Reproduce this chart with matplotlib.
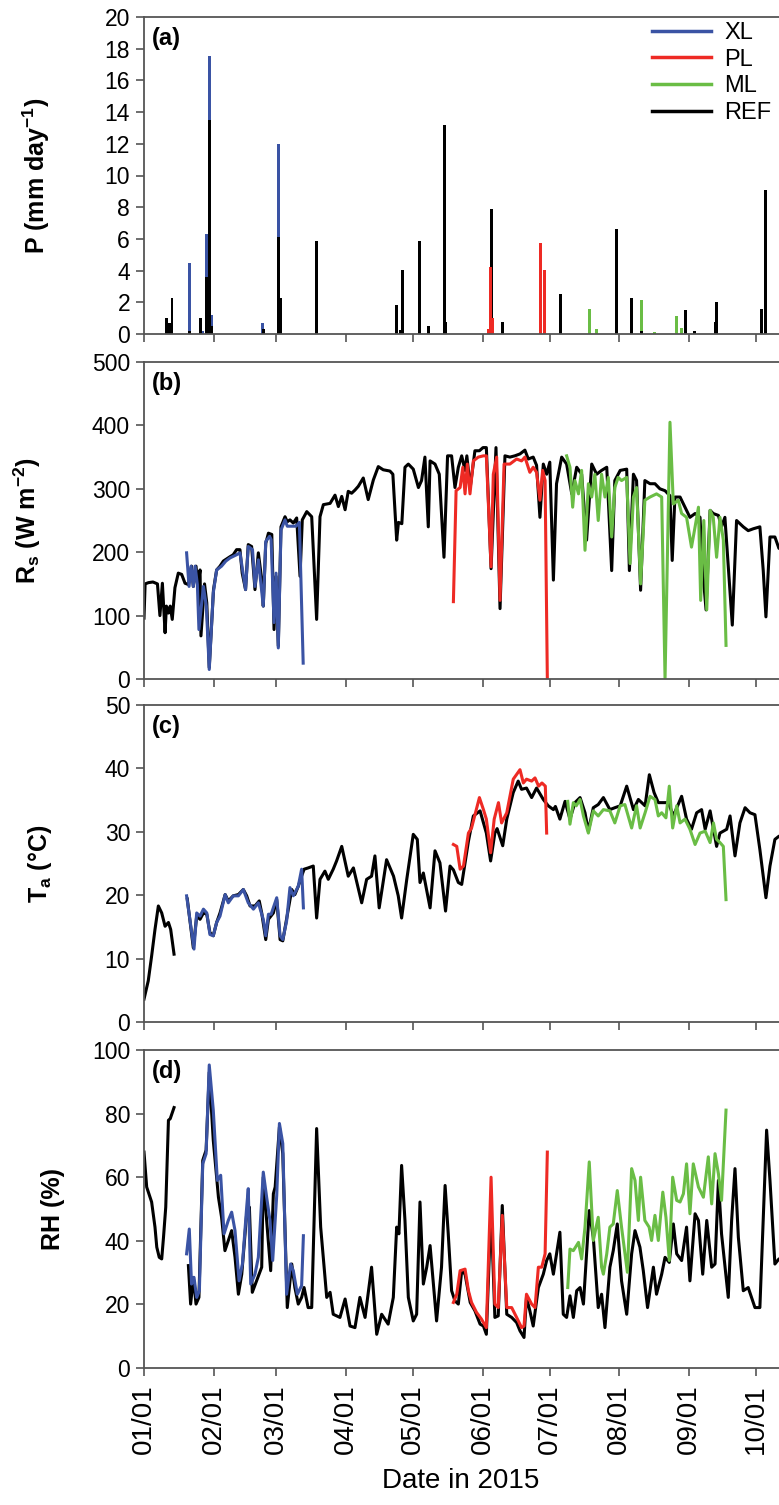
import numpy as np
import matplotlib
matplotlib.use("Agg")
import matplotlib.pyplot as plt
import matplotlib.dates as mdates
from matplotlib.lines import Line2D
from datetime import datetime

plt.rcParams["font.family"] = ["Liberation Sans", "DejaVu Sans"]
plt.rcParams["mathtext.fontset"] = "custom"
plt.rcParams["mathtext.rm"] = "Liberation Sans:bold"
plt.rcParams["mathtext.bf"] = "Liberation Sans:bold"
plt.rcParams["mathtext.default"] = "bf"

# colours
c_xl = "#3A53A4"
c_pl = "#EE2A24"
c_ml = "#6ABD45"
c_ref = "#000000"

# ---- data (day of year counted from 01/01/2015, value) ----
# (a) precipitation, mm/day
p_ref = [(10, 1.0), (11.3, 0.7), (12.5, 2.3), (20.1, 0.2), (25.3, 1.0), (28.0, 3.6),
         (29.1, 13.5), (30.2, 0.5), (53.2, 0.3), (59.9, 6.1), (61.1, 2.3), (77.0, 5.85),
         (112.8, 1.8), (114.5, 0.25), (115.1, 4.05), (122.9, 5.85), (126.9, 0.5),
         (133.9, 13.2), (134.6, 0.75), (154.8, 7.9), (159.8, 0.75), (185.7, 2.55),
         (210.7, 6.6), (217.5, 2.3), (221.8, 0.2), (241.5, 1.5), (245.5, 0.2),
         (254.8, 0.75), (255.4, 2.05), (275.5, 1.55), (277.4, 9.1)]
p_xl = [(20.1, 4.5), (26.0, 0.2), (28.0, 6.3), (29.1, 17.55), (30.2, 1.2), (52.9, 0.7),
        (59.9, 12.0)]
p_pl = [(153.6, 0.3), (154.6, 4.2), (155.6, 1.0), (176.8, 5.75), (178.6, 4.05)]
p_ml = [(198.6, 1.55), (201.9, 0.3), (221.8, 2.15), (227.6, 0.15), (237.6, 1.15),
        (239.7, 0.35)]

# (b) solar radiation, W m-2
rs_ref = [(0, 96), (0.5, 150), (2, 152), (4, 153), (6, 150), (7.1, 100), (8.2, 151),
          (9.4, 73), (10, 115), (10.9, 104), (11.7, 115), (12.6, 94), (13.8, 144),
          (15.3, 167), (16.8, 165), (18.3, 151), (19.8, 149), (21.2, 178), (22, 146),
          (23.2, 178), (24, 146), (25, 172), (25.4, 68), (27, 150), (28, 120), (29.1, 18),
          (31, 141), (32.4, 172), (33.9, 178), (35.4, 186), (38.4, 193), (39.8, 196),
          (41.3, 204), (42.8, 204), (43.8, 167), (45.3, 141), (46.5, 212), (48, 209),
          (49.5, 141), (51, 199), (52.5, 157), (53.2, 115), (54.3, 214), (55.5, 230),
          (57, 228), (58, 78), (58.9, 162), (59.9, 52), (61.1, 240), (62.9, 256),
          (63.9, 248), (65.1, 251), (66.6, 246), (68.1, 254), (69.6, 162), (70.6, 251),
          (72.6, 264), (74.8, 256), (77, 94), (78.5, 256), (80, 275), (83, 277),
          (85.2, 290), (86.7, 272), (88.2, 288), (89.7, 267), (91.1, 296), (92.6, 293),
          (94.1, 298), (95.6, 304), (97.8, 317), (100, 283), (102.3, 314), (104.5, 335),
          (106.7, 330), (109.7, 328), (111, 323), (112.7, 219), (113.5, 247), (115, 245),
          (116.4, 334), (117.9, 339), (120.1, 331), (122.4, 302), (123.8, 313),
          (125.3, 350), (126.8, 240), (127.6, 344), (129.8, 339), (131.7, 323),
          (133.8, 192), (135.4, 352), (137.2, 352), (138.7, 302), (140.2, 334),
          (141.7, 352), (143.2, 329), (144, 352), (145.5, 302), (147.6, 360),
          (149.6, 360), (151.2, 365), (152.7, 365), (154.8, 174), (157, 365),
          (158.8, 111), (161, 352), (163.2, 350), (165.4, 352), (167.7, 355),
          (169.9, 361), (171.4, 347), (173.6, 350), (175.1, 337), (176.6, 255),
          (178.1, 339), (179.6, 323), (181, 342), (182.6, 156), (184, 308), (186.3, 350),
          (188.5, 339), (190.8, 292), (193, 334), (195.2, 323), (197.4, 219),
          (199.7, 339), (201.9, 323), (204.1, 329), (206.4, 334), (208.6, 171),
          (210, 313), (212.4, 329), (215.3, 331), (216.5, 171), (218.3, 323),
          (219.7, 313), (221.5, 140), (223.4, 313), (225.7, 308), (227.9, 308),
          (230.1, 300), (232.4, 297), (234.6, 289), (235.6, 187), (236.8, 287),
          (239.1, 287), (241.3, 271), (243.5, 255), (245.8, 261), (248, 255),
          (249.2, 171), (250.7, 109), (252.5, 266), (253.9, 261), (256.2, 258),
          (257.6, 240), (259.1, 255), (262.4, 85), (264.3, 250), (267.3, 240),
          (269.5, 234), (271.8, 237), (274.7, 240), (276.2, 171), (277.4, 98),
          (279.2, 224), (281.4, 224), (283.2, 206), (286, 215)]
rs_xl = [(19, 199), (20.1, 146), (21, 178), (22, 146), (22.8, 178), (23.8, 149),
         (24.5, 78), (26.5, 146), (27.8, 115), (29.1, 15), (30.9, 136), (32.4, 172),
         (34.6, 178), (36.5, 186), (38.4, 191), (41.3, 196), (42.8, 199), (45.3, 141),
         (46.5, 209), (48.4, 204), (49.5, 146), (51, 188), (53.2, 115), (54.3, 217),
         (56, 225), (56.7, 220), (58, 89), (58.9, 167), (59.9, 49), (61.1, 235),
         (62.9, 251), (63.9, 241), (65.8, 241), (67.8, 241), (69.3, 247), (71, 25)]
rs_pl = [(138, 122), (139.2, 297), (141, 302), (142.2, 334), (143.2, 292), (144.2, 339),
         (145.4, 292), (146.9, 344), (149.1, 350), (151.4, 352), (152.7, 352),
         (154.8, 177), (155.8, 323), (157.3, 350), (158.8, 124), (160.6, 339),
         (163.2, 339), (166.2, 347), (168.4, 344), (169.9, 350), (172.1, 326),
         (173.6, 334), (175.1, 326), (176.6, 282), (177.8, 329), (178.9, 313), (179.9, 0)]
rs_ml = [(188.5, 352), (190, 334), (191.2, 271), (192.2, 313), (193.8, 292), (195.2, 329),
         (196.7, 203), (198.2, 308), (199.7, 287), (201.1, 323), (202.6, 250),
         (204.1, 323), (205.6, 287), (207.1, 318), (208.6, 224), (210, 302), (211.5, 318),
         (213, 313), (215.3, 318), (216.8, 182), (218.3, 287), (219.7, 302), (221.5, 150),
         (223.4, 282), (225.7, 287), (228.6, 292), (230.9, 287), (232.4, 0), (234.6, 405),
         (236.1, 276), (238.3, 282), (239.8, 261), (242, 255), (244.2, 208), (245.8, 240),
         (247.3, 271), (248.3, 124), (249.7, 250), (251, 109), (252.5, 266), (253.9, 255),
         (255.4, 192), (256.9, 255), (258.4, 219), (259.6, 53)]

# (c) air temperature, degC  (nan = gap in record)
ta_ref = [(0, 3.6), (1.9, 6.5), (3.4, 10.4), (4.9, 14.6), (6.4, 18.3), (7.9, 17.2),
          (9.4, 15.1), (10.9, 15.7), (11.9, 14.6), (13.4, 10.7), (16, np.nan),
          (19.3, 19.4), (22, 11.7), (23.5, 16.7), (25, 16.2), (26.5, 17.2), (28, 17.0),
          (29.4, 14.1), (30.9, 13.6), (32.4, 15.7), (33.9, 17.2), (36.2, 20.1),
          (37.6, 19.1), (39.8, 19.9), (42.1, 20.1), (44.3, 20.9), (45.8, 19.9),
          (47.3, 18.3), (49.5, 18.3), (51.4, 19.1), (52.5, 17.2), (54.3, 13.0),
          (55.5, 16.2), (57.7, 17.2), (59.2, 19.3), (60.7, 13.0), (61.9, 12.8),
          (63.6, 16.2), (65.9, 20.9), (67.3, 20.1), (68.8, 21.4), (70.3, 23.0),
          (71.4, 24.1), (73.2, 24.3), (75.5, 24.6), (77, 16.4), (78.5, 22.5),
          (80.7, 23.8), (82.2, 22.5), (84.4, 24.1), (85.9, 25.4), (88.2, 27.7),
          (91.1, 23.0), (93.4, 24.3), (97.1, 18.8), (99.3, 22.5), (101.5, 23.0),
          (103, 26.2), (104.9, 18.0), (108.2, 25.6), (111.3, 23.0), (113.4, 19.9),
          (114.9, 16.4), (117.2, 22.5), (120.1, 29.6), (121.9, 28.8), (123.1, 22.0),
          (124.6, 23.5), (127.6, 18.0), (129.8, 27.0), (132, 25.1), (134.5, 17.5),
          (136.5, 24.6), (138, 24.0), (140.2, 22.0), (141.7, 21.7), (144.7, 28.5),
          (146.9, 32.5), (149.9, 33.3), (152.7, 29.8), (154.6, 25.4), (156.5, 29.8),
          (157.5, 30.5), (160, 27.8), (161.8, 32.0), (164.7, 36.2), (166.9, 38.0),
          (168.4, 36.7), (170.6, 36.9), (172.9, 35.4), (175.1, 36.9), (178.1, 35.1),
          (180.3, 34.1), (182.6, 33.5), (183.5, 34.0), (185.5, 32.0), (187.8, 34.8),
          (190, 32.0), (192.2, 34.6), (194.5, 35.4), (196.7, 33.0), (198.2, 30.1),
          (200.4, 33.8), (202.6, 34.3), (204.9, 35.4), (207.8, 33.5), (210, 33.8),
          (212.4, 34.1), (215.3, 37.2), (218.3, 33.5), (220.5, 35.1), (223.5, 34.1),
          (225.4, 39.0), (227.5, 36.2), (229.4, 34.6), (231.7, 34.6), (233.9, 34.6),
          (236.1, 32.5), (239.8, 35.6), (242, 32.0), (244.2, 30.4), (246.5, 33.0),
          (248.7, 33.5), (250.3, 30.4), (252.5, 33.3), (255.4, 27.7), (256.9, 29.8),
          (259.9, 30.4), (261.4, 32.5), (263.6, 26.2), (265.8, 31.4), (268.1, 33.8),
          (270.3, 33.0), (272.5, 32.7), (274.7, 27.2), (277.4, 19.6), (279.2, 24.6),
          (281.4, 28.8), (283.2, 29.3), (286, 29.5)]
ta_xl = [(19, 19.9), (22.3, 11.5), (23.5, 17.2), (25, 16.7), (26.5, 17.8), (28, 17.2),
         (29.4, 13.8), (30.9, 13.6), (32.4, 15.7), (33.9, 16.7), (36.2, 20.1),
         (37.6, 18.8), (39.8, 19.9), (42.1, 19.9), (44.3, 20.9), (46.5, 18.8),
         (48.8, 17.8), (51, 18.8), (53.2, 16.2), (54.3, 13.6), (55.5, 17.0), (56.7, 17.0),
         (59.2, 19.6), (60.7, 13.6), (61.9, 13.0), (63.6, 15.9), (65.1, 21.2),
         (66.6, 19.9), (68.8, 21.4), (70.3, 24.1), (71.1, 18.0)]
ta_pl = [(138, 28.0), (139.5, 27.7), (141, 24.1), (142.5, 24.6), (144.7, 29.8),
         (146.1, 30.6), (149.6, 35.4), (151.4, 33.5), (152.7, 32.0), (154.6, 26.7),
         (156.2, 32.0), (158.1, 34.6), (159.5, 31.4), (161.8, 33.0), (164.7, 38.3),
         (167.7, 39.8), (169.2, 37.7), (170.6, 38.3), (172.9, 38.0), (174.4, 38.5),
         (176, 37.2), (177.5, 37.7), (179, 37.2), (179.6, 29.8)]
ta_ml = [(189, 34.8), (190, 31.2), (191.5, 34.6), (192.8, 34.1), (194.5, 35.1), (196, 32.5),
         (198.2, 29.8), (200.4, 33.3), (202.6, 32.5), (204.9, 33.5), (207.8, 33.3),
         (210, 31.4), (212.4, 34.1), (214.5, 34.3), (217.5, 30.6), (219.7, 34.1),
         (221.3, 30.6), (223.5, 33.0), (225.7, 35.6), (227.9, 35.1), (229.4, 32.5),
         (230.9, 33.0), (232.8, 32.2), (234.3, 37.2), (235.8, 30.6), (237.6, 34.1),
         (239.1, 31.4), (241.3, 32.0), (243.5, 30.4), (245.8, 28.0), (248, 29.8),
         (250.3, 30.1), (252.5, 28.3), (254, 31.4), (255.4, 28.8), (256.9, 28.3),
         (258.4, 27.7), (259.6, 19.3)]

# (d) relative humidity, %
rh_ref = [(0, 67.9), (1.2, 56.9), (3.4, 52.2), (4.9, 44.3), (5.7, 38.0), (6.8, 34.8),
          (7.9, 34.3), (8.7, 41.1), (9.7, 50.6), (10.9, 77.9), (11.7, 78.4), (13.4, 81.9),
          (16, np.nan), (19.8, 32.2), (20.8, 20.1), (22, 28.5), (23.2, 20.1), (24.5, 22.2),
          (26.2, 65.3), (27.7, 68.5), (29.1, 93.0), (30.9, 71.6), (33.2, 53.7),
          (34.6, 47.4), (36.1, 36.9), (37.6, 40.1), (39.1, 43.2), (40.6, 34.8),
          (42.1, 23.2), (43.6, 29.5), (45.8, 48.5), (47, 50.6), (48.3, 23.8),
          (50.2, 27.4), (52.5, 31.7), (53.2, 60.0), (54.7, 46.4), (56.5, 30.6),
          (57.7, 54.8), (58.5, 56.9), (60.4, 75.8), (61.9, 67.4), (63.9, 19.0),
          (65.9, 32.7), (67.3, 25.3), (68.8, 20.1), (70.3, 22.2), (71.4, 25.3),
          (73.2, 19.0), (74.8, 19.0), (77, 75.3), (78.8, 44.3), (81.5, 22.2), (83, 23.8),
          (84.4, 16.9), (87.4, 15.9), (89.7, 21.7), (91.9, 13.2), (94.1, 12.7),
          (96.3, 22.2), (98.6, 15.9), (101.5, 31.7), (103.8, 10.6), (106, 16.9),
          (108.9, 13.8), (111.2, 22.2), (112.7, 44.3), (113.7, 42.2), (114.9, 63.7),
          (116.4, 46.4), (117.9, 22.2), (120.1, 14.8), (121.6, 16.9), (123.1, 52.2),
          (124.6, 26.4), (126.1, 31.7), (127.6, 38.5), (129.1, 26.4), (130.5, 14.8),
          (132.7, 31.7), (134.3, 57.4), (135.7, 42.2), (137.2, 24.3), (138.7, 21.1),
          (140.2, 20.1), (141.7, 30.6), (143.2, 29.5), (145.5, 20.6), (147.6, 18.0),
          (149.9, 13.8), (151.4, 13.2), (152.7, 10.6), (154.8, 50.0), (156.5, 15.9),
          (158, 16.4), (159.8, 51.1), (161.8, 16.9), (164, 15.9), (166.2, 14.3),
          (167.7, 11.7), (169.5, 9.6), (170.6, 22.2), (172.1, 18.0), (173.6, 13.2),
          (175.9, 25.3), (178.1, 29.5), (179.6, 33.8), (181, 35.9), (182.6, 29.5),
          (184, 35.9), (185.5, 42.7), (187, 16.9), (188.5, 15.9), (190, 22.7),
          (191.5, 15.9), (193, 24.3), (194.5, 25.3), (196, 20.1), (198.6, 49.5),
          (200.4, 41.1), (202.6, 19.0), (204.1, 23.2), (205.6, 12.7), (207.8, 31.7),
          (209.3, 36.9), (211.1, 45.3), (213, 27.4), (215.3, 16.9), (217.5, 35.9),
          (219, 43.2), (221.2, 38.0), (222.7, 30.6), (224.6, 19.0), (227.2, 31.7),
          (228.6, 23.2), (230.9, 29.5), (232.4, 34.8), (234.3, 33.2), (236.1, 45.3),
          (237.6, 35.9), (239.8, 33.8), (242, 44.3), (243.5, 27.4), (245.8, 48.5),
          (247.3, 46.4), (249.2, 29.5), (251, 46.4), (253.2, 31.7), (254.7, 32.7),
          (256.2, 59.0), (257.6, 42.2), (260.6, 22.2), (262.1, 46.4), (263.6, 62.7),
          (265.1, 41.1), (267.3, 24.3), (269.5, 25.3), (271, 22.2), (272.5, 19.0),
          (274.7, 19.0), (277.7, 74.8), (279.2, 59.0), (281.4, 32.7), (283.2, 34.3),
          (286, 34.0)]
rh_xl = [(19, 35.9), (20.2, 43.7), (21.2, 26.4), (22.3, 28.5), (23.5, 22.2), (24.7, 24.3),
         (26.2, 64.2), (27.7, 67.4), (29.1, 95.3), (30.9, 81.1), (32.7, 59.0),
         (34.2, 60.6), (35.7, 42.2), (37.6, 46.4), (39.1, 49.0), (40.6, 43.2),
         (42.4, 27.4), (43.9, 32.7), (45.8, 50.6), (46.5, 56.4), (47.6, 26.4),
         (49.5, 29.5), (51, 34.8), (53.2, 61.6), (54.7, 53.7), (56.2, 46.4), (57.4, 33.8),
         (59.2, 54.3), (60.4, 76.9), (61.9, 70.6), (63.6, 23.2), (65.4, 32.7),
         (66.6, 30.6), (68.4, 23.2), (70.3, 25.9), (71.1, 41.6)]
rh_pl = [(138, 20.6), (139.5, 23.2), (141, 30.6), (143.2, 31.1), (144.7, 24.3),
         (146.1, 20.6), (148.3, 17.5), (150.5, 15.4), (152.7, 12.7), (154.8, 60.0),
         (156.5, 20.1), (158, 19.0), (159.8, 48.0), (161.8, 19.0), (164, 19.0),
         (166.2, 15.9), (168.4, 12.7), (169.5, 13.2), (170.6, 23.2), (172.9, 20.1),
         (174.4, 19.0), (175.9, 31.7), (177.4, 31.7), (178.9, 35.9), (179.9, 67.9)]
rh_ml = [(189, 25.3), (190, 37.4), (191.5, 36.9), (193.8, 39.5), (195.2, 34.3),
         (196.7, 44.3), (198.6, 64.8), (200.4, 40.1), (202.6, 47.4), (204.1, 31.7),
         (204.9, 29.5), (206.4, 35.9), (207.8, 44.3), (209.3, 45.3), (211.1, 55.8),
         (213, 44.3), (215.6, 30.1), (217.5, 62.7), (219, 59.0), (220.5, 46.4),
         (221.5, 60.0), (223.4, 46.4), (225.3, 44.3), (226.4, 40.1), (227.9, 48.0),
         (229.4, 40.1), (231.4, 55.3), (232.8, 47.4), (234.3, 33.8), (235.8, 60.0),
         (237.6, 52.7), (239.1, 52.2), (240.6, 54.8), (242, 64.2), (243.5, 48.5),
         (245, 64.2), (247.3, 56.9), (249.5, 53.7), (251.7, 66.4), (253.2, 51.6),
         (254.7, 67.4), (256.2, 61.1), (257.6, 52.7), (259.6, 81.1)]

series_names = ["XL", "PL", "ML", "REF"]
ylabels = [r"P (mm day$^{-1}$)", r"R$_s$ (W m$^{-2}$)", r"T$_a$ (°C)", "RH (%)"]
panel_tags = ["(a)", "(b)", "(c)", "(d)"]
ylims = [(0, 20, 2), (0, 500, 100), (0, 50, 10), (0, 100, 20)]

base = mdates.date2num(datetime(2015, 1, 1))


def xy(pairs):
    arr = np.array(pairs, dtype=float)
    return base + arr[:, 0], arr[:, 1]


W, H = 779, 1505
fig = plt.figure(figsize=(W / 100, H / 100), dpi=100)

x0 = 144          # left spine, px
px_per_day = 2.242
ndays = 300
ax_w = ndays * px_per_day
panels_px = [(17, 334), (362, 679), (705, 1022), (1050, 1368)]
axes = []
for top, bot in panels_px:
    ax = fig.add_axes([x0 / W, 1 - bot / H, ax_w / W, (bot - top) / H])
    axes.append(ax)

spine_col = "#555555"
label_x = [36, 27, 40, 53]
for i, ax in enumerate(axes):
    lo, hi, step = ylims[i]
    ax.set_ylim(lo, hi)
    ax.set_yticks(np.arange(lo, hi + step / 2, step))
    ax.set_xlim(base, base + ndays)
    ax.xaxis.set_major_locator(mdates.MonthLocator())
    ax.xaxis.set_major_formatter(mdates.DateFormatter("%m/%d"))
    for s in ax.spines.values():
        s.set_color(spine_col)
        s.set_linewidth(1.3)
    ax.tick_params(axis="both", direction="out", length=6, width=1.2, color=spine_col,
                   labelsize=16.5, pad=4)
    if i < 3:
        ax.tick_params(axis="x", labelbottom=False)
    else:
        ax.tick_params(axis="x", labelsize=20, labelrotation=90, pad=6)
    ax.set_ylabel(ylabels[i], fontsize=18, fontweight="bold", va="center")
    ax.yaxis.set_label_coords((label_x[i] - x0) / ax_w, 0.5)
    ax.text(0.012, 0.968, panel_tags[i], transform=ax.transAxes, fontsize=17,
            fontweight="bold", va="top", ha="left")

# (a) precipitation bars
ax = axes[0]
bw = 1.3
for data, col in [(p_xl, c_xl), (p_ml, c_ml), (p_ref, c_ref), (p_pl, c_pl)]:
    x, y = xy(data)
    ax.bar(x, y, width=bw, color=col, linewidth=0)

# (b)-(d) lines
lw = 2.2
for ax, ref, xl, pl, ml in [(axes[1], rs_ref, rs_xl, rs_pl, rs_ml),
                            (axes[2], ta_ref, ta_xl, ta_pl, ta_ml),
                            (axes[3], rh_ref, rh_xl, rh_pl, rh_ml)]:
    ax.plot(*xy(ref), color=c_ref, lw=lw)
    ax.plot(*xy(xl), color=c_xl, lw=lw)
    ax.plot(*xy(pl), color=c_pl, lw=lw)
    ax.plot(*xy(ml), color=c_ml, lw=lw)

fig.text(461 / W, 1 - 1481 / H, "Date in 2015", fontsize=20, ha="center", va="center")

handles = [Line2D([], [], color=c, lw=2.5) for c in [c_xl, c_pl, c_ml, c_ref]]
fig.legend(handles, series_names, loc="upper left", frameon=False,
           bbox_to_anchor=(652 / W, 1 - 22 / H), fontsize=17, handlelength=2.5,
           handletextpad=0.55, labelspacing=0.2, borderpad=0, borderaxespad=0)

fig.savefig("out.png", dpi=100)
